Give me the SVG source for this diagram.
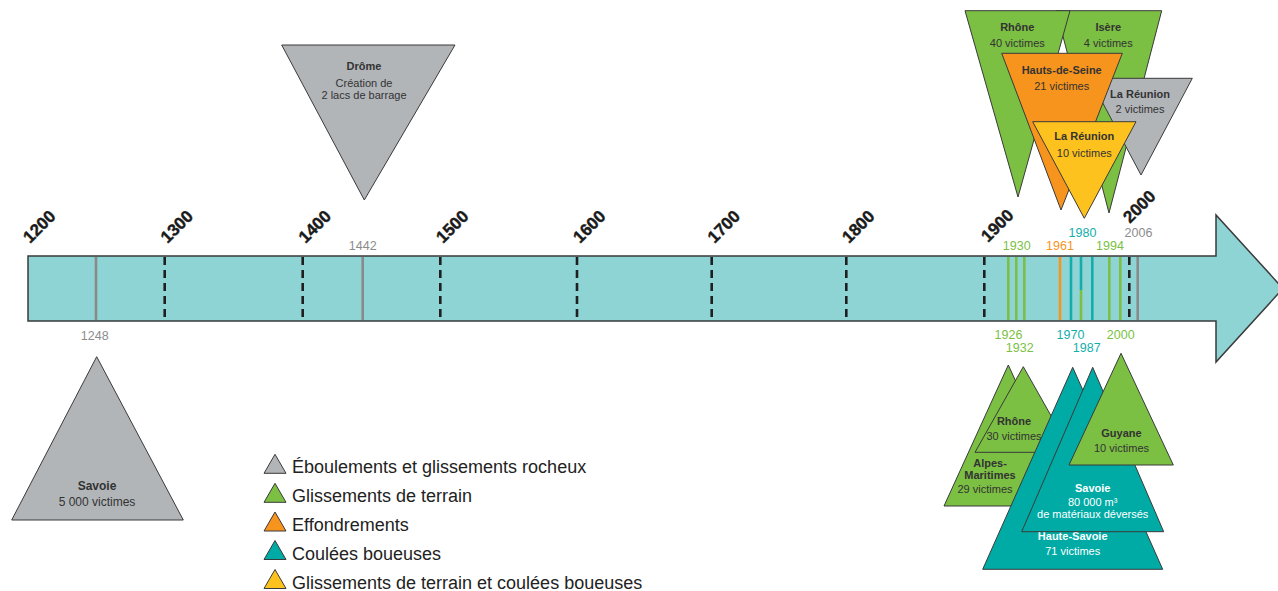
<svg xmlns="http://www.w3.org/2000/svg" width="1278" height="591" viewBox="0 0 1278 591">
<style>
.tri{stroke:#3a3a3a;stroke-width:1;stroke-linejoin:miter}
.gray{fill:#b1b5b8}.green{fill:#7bbf43}.orange{fill:#f7941d}.teal{fill:#00aba6}.yellow{fill:#fdc21d}
.t{font-family:"Liberation Sans",Arial,sans-serif;font-size:11px;fill:#333;text-anchor:middle}
.b{font-weight:bold}
.w{fill:#fff}
.cent{font-family:"Liberation Sans",Arial,sans-serif;font-size:17px;font-weight:bold;fill:#1a1a1a;stroke:#1a1a1a;stroke-width:0.4}
.yr{font-family:"Liberation Sans",Arial,sans-serif;font-size:12.5px;text-anchor:middle}
.cg{fill:#7bbf43}.co{fill:#f7941d}.ct{fill:#13aeab}.cy{fill:#8c8c8c}
.dash{stroke:#1f1f1f;stroke-width:2.6;stroke-dasharray:8 5}
.ev{stroke-width:2.6}
.leg{font-family:"Liberation Sans",Arial,sans-serif;font-size:18px;fill:#222}
</style>

<g id="timeline">
<polygon points="28,256 1216,256 1216,215 1283,288.5 1216,362 1216,321 28,321" fill="#8fd4d5" stroke="#3a3a3a" stroke-width="1.5"/>
</g>

<g id="connectors">
<g id="century-dashes">
<line class="dash" x1="164.7" y1="257" x2="164.7" y2="320"/>
<line class="dash" x1="302.7" y1="257" x2="302.7" y2="320"/>
<line class="dash" x1="440.3" y1="257" x2="440.3" y2="320"/>
<line class="dash" x1="577" y1="257" x2="577" y2="320"/>
<line class="dash" x1="711.7" y1="257" x2="711.7" y2="320"/>
<line class="dash" x1="846.3" y1="257" x2="846.3" y2="320"/>
<line class="dash" x1="984.3" y1="257" x2="984.3" y2="320"/>
<line class="dash" x1="1129.3" y1="257" x2="1129.3" y2="320"/>
</g>
<g id="event-lines">
<line class="ev" stroke="#8a8a8a" x1="96" y1="257" x2="96" y2="320"/>
<line class="ev" stroke="#8a8a8a" x1="362.7" y1="257" x2="362.7" y2="320"/>
<line class="ev" stroke="#7bbf43" x1="1008.3" y1="257" x2="1008.3" y2="320"/>
<line class="ev" stroke="#7bbf43" x1="1016.3" y1="257" x2="1016.3" y2="320"/>
<line class="ev" stroke="#7bbf43" x1="1024.3" y1="257" x2="1024.3" y2="320"/>
<line class="ev" stroke="#f7941d" x1="1060" y1="257" x2="1060" y2="320"/>
<line class="ev" stroke="#13aeab" x1="1071" y1="257" x2="1071" y2="320"/>
<line class="ev" stroke="#13aeab" x1="1081" y1="257" x2="1081" y2="290"/>
<line class="ev" stroke="#7bbf43" x1="1081" y1="290" x2="1081" y2="320"/>
<line class="ev" stroke="#13aeab" x1="1092.3" y1="257" x2="1092.3" y2="320"/>
<line class="ev" stroke="#7bbf43" x1="1109.3" y1="257" x2="1109.3" y2="320"/>
<line class="ev" stroke="#7bbf43" x1="1120.3" y1="257" x2="1120.3" y2="320"/>
<line class="ev" stroke="#8a8a8a" x1="1137.7" y1="257" x2="1137.7" y2="320"/>
</g>
</g>

<g id="century-labels">
<text class="cent" transform="translate(30,244) rotate(-45)">1200</text>
<text class="cent" transform="translate(167.5,244) rotate(-45)">1300</text>
<text class="cent" transform="translate(305.5,244) rotate(-45)">1400</text>
<text class="cent" transform="translate(443,244) rotate(-45)">1500</text>
<text class="cent" transform="translate(580,244) rotate(-45)">1600</text>
<text class="cent" transform="translate(714.5,244) rotate(-45)">1700</text>
<text class="cent" transform="translate(849,244) rotate(-45)">1800</text>
<text class="cent" transform="translate(988,243) rotate(-45)">1900</text>
<text class="cent" transform="translate(1130,224) rotate(-45)">2000</text>
</g>

<g id="year-labels">
<text class="yr cy" x="362.7" y="250">1442</text>
<text class="yr cy" x="94.7" y="340">1248</text>
<text class="yr cg" x="1016.7" y="250">1930</text>
<text class="yr co" x="1060" y="250">1961</text>
<text class="yr cg" x="1110" y="250">1994</text>
<text class="yr ct" x="1082.5" y="237">1980</text>
<text class="yr cy" x="1138.5" y="237">2006</text>
<text class="yr cg" x="1008.5" y="339">1926</text>
<text class="yr cg" x="1019.7" y="351.7">1932</text>
<text class="yr ct" x="1070.5" y="339">1970</text>
<text class="yr ct" x="1086.7" y="351.7">1987</text>
<text class="yr cg" x="1120.7" y="339">2000</text>
</g>

<g id="drome-1442">
<polygon class="tri gray" points="281.7,45 455,45 364.3,200"/>
<text class="t b" x="364" y="70">Drôme</text>
<text class="t" x="364" y="86.5">Création de</text>
<text class="t" x="364" y="99">2 lacs de barrage</text>
</g>

<g id="savoie-1248">
<polygon class="tri gray" points="96.7,356.7 183.3,520 11.7,520"/>
<text class="t b" x="97" y="490" style="font-size:12px">Savoie</text>
<text class="t" x="97" y="506" style="font-size:12px">5 000 victimes</text>
</g>

<g id="isere">
<polygon class="tri green" points="1056.3,10.7 1161.7,10.7 1109,213"/>
<text class="t b" x="1108.3" y="30.7">Isère</text>
<text class="t" x="1108.3" y="46.7">4 victimes</text>
</g>

<g id="rhone-top">
<polygon class="tri green" points="965,10.7 1070,10.7 1018,197"/>
<text class="t b" x="1017.3" y="30.7">Rhône</text>
<text class="t" x="1017.3" y="46.7">40 victimes</text>
</g>

<g id="reunion-gray">
<polygon class="tri gray" points="1089.7,78.3 1192.3,78.3 1141,175"/>
<text class="t b" x="1140" y="98.3">La Réunion</text>
<text class="t" x="1140" y="113.3">2 victimes</text>
</g>

<g id="hauts-de-seine">
<polygon class="tri orange" points="1001.7,53.3 1122.3,53.3 1061,210"/>
<text class="t b" x="1061.7" y="74">Hauts-de-Seine</text>
<text class="t" x="1061.7" y="90">21 victimes</text>
</g>

<g id="reunion-yellow">
<polygon class="tri yellow" points="1032.7,121.7 1136,121.7 1084.3,218.3"/>
<text class="t b" x="1084.3" y="140">La Réunion</text>
<text class="t" x="1084.3" y="156.7">10 victimes</text>
</g>

<g id="alpes-maritimes">
<polygon class="tri green" points="1008.3,365 1072.7,506 944,506"/>
<text class="t b" x="990" y="466.7">Alpes-</text>
<text class="t b" x="990" y="479.3">Maritimes</text>
<text class="t" x="985" y="492.7">29 victimes</text>
</g>

<g id="rhone-bottom">
<polygon class="tri green" points="1023.3,366.7 1071.7,452.3 975,452.3"/>
<text class="t b" x="1014" y="425">Rhône</text>
<text class="t" x="1014" y="440">30 victimes</text>
</g>

<g id="haute-savoie">
<polygon class="tri teal" points="1072.7,367.3 1162.7,569.3 982.7,569.3"/>
<text class="t b w" x="1072.7" y="540">Haute-Savoie</text>
<text class="t w" x="1072.7" y="555">71 victimes</text>
</g>

<g id="savoie-teal">
<polygon class="tri teal" points="1092.7,367.3 1163.7,531.7 1021.7,531.7"/>
<text class="t b w" x="1092.7" y="491.7">Savoie</text>
<text class="t w" x="1092.7" y="505.7">80 000 m³</text>
<text class="t w" x="1092.7" y="517.7">de matériaux déversés</text>
</g>

<g id="guyane">
<polygon class="tri green" points="1121,353.3 1173.3,465 1069,465"/>
<text class="t b" x="1121.5" y="436.7">Guyane</text>
<text class="t" x="1121.5" y="451.7">10 victimes</text>
</g>

<g id="legend">
<polygon class="tri gray" points="275,454.3 286,473.3 264,473.3"/>
<text class="leg" x="292" y="473.3">Éboulements et glissements rocheux</text>
<polygon class="tri green" points="275,483.3 286,502.3 264,502.3"/>
<text class="leg" x="292" y="502.3">Glissements de terrain</text>
<polygon class="tri orange" points="275,512 286,531 264,531"/>
<text class="leg" x="292" y="531">Effondrements</text>
<polygon class="tri teal" points="275,540.5 286,559.5 264,559.5"/>
<text class="leg" x="292" y="559.5">Coulées boueuses</text>
<polygon class="tri yellow" points="275,569.5 286,588.5 264,588.5"/>
<text class="leg" x="292" y="588.5">Glissements de terrain et coulées boueuses</text>
</g>
</svg>
